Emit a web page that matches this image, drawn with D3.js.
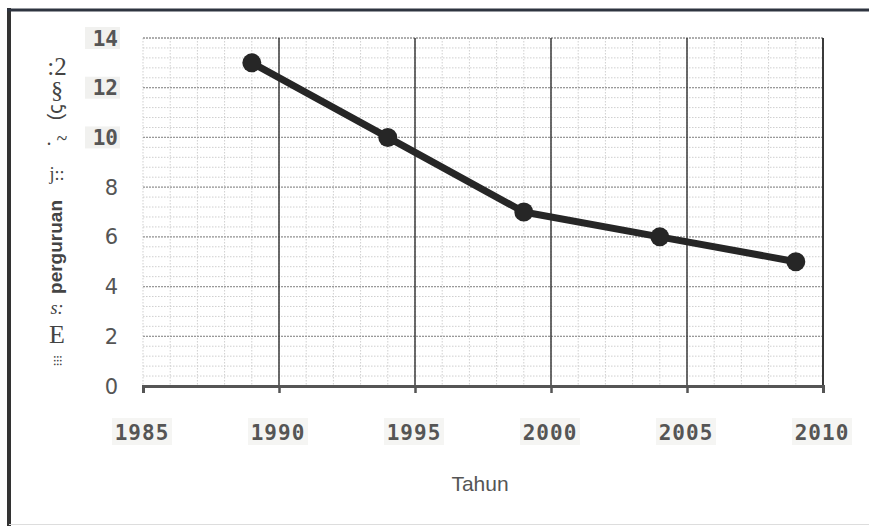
<!DOCTYPE html>
<html>
<head>
<meta charset="utf-8">
<script src="https://cdn.jsdelivr.net/npm/d3@7"></script>
<style>
  html, body { margin: 0; padding: 0; background: #fff; }
  svg { display: block; }
</style>
</head>
<body>
<svg id="viz"></svg>
<script>
  const years = [1989, 1994, 1999, 2004, 2009];
  const values = [13, 10, 7, 6, 5];
  const xTicks = [1985, 1990, 1995, 2000, 2005, 2010];
  const yTicks = [0, 2, 4, 6, 8, 10, 12, 14];
  const xTitle = 'Tahun';
  // scanned y-axis title, garbled pieces kept as they appear (top to bottom)
  const yTitleParts = [':2', '§', '(ꞔ', '. ~', 'j::', 'perguruan', 's:', 'E', '⁝⁝⁝'];

  const width = 869, height = 526;
  const margin = { top: 38, right: 46, bottom: 140, left: 143 };
  const innerW = width - margin.left - margin.right;
  const innerH = height - margin.top - margin.bottom;

  const svgRoot = d3.select('#viz').attr('width', width).attr('height', height);

  // outer frame of the scan
  svgRoot.append('line').attr('x1', 9).attr('x2', 9).attr('y1', 8).attr('y2', height)
    .attr('stroke', '#333').attr('stroke-width', 4);
  svgRoot.append('line').attr('x1', 7).attr('x2', width).attr('y1', 10).attr('y2', 10)
    .attr('stroke', '#2e3440').attr('stroke-width', 3);
  svgRoot.append('line').attr('x1', 9).attr('x2', width).attr('y1', 524.5).attr('y2', 524.5)
    .attr('stroke', '#ddd').attr('stroke-width', 1);

  const svg = svgRoot.append('g').attr('transform', `translate(${margin.left},${margin.top})`);

  const x = d3.scaleLinear().domain([1985, 2010]).range([0, innerW]);
  const y = d3.scaleLinear().domain([0, 14]).range([innerH, 0]);

  // minor grid
  const minorY = d3.range(0, 14.001, 0.4);
  svg.append('g').selectAll('line').data(minorY).join('line')
    .attr('x1', 0).attr('x2', innerW)
    .attr('y1', d => y(d)).attr('y2', d => y(d))
    .attr('stroke', '#cfcfcf').attr('stroke-width', 1).attr('stroke-dasharray', '1.5,1.5');
  const minorX = d3.range(1985, 2010.001, 1);
  svg.append('g').selectAll('line').data(minorX).join('line')
    .attr('x1', d => x(d)).attr('x2', d => x(d))
    .attr('y1', 0).attr('y2', innerH)
    .attr('stroke', '#cfcfcf').attr('stroke-width', 1).attr('stroke-dasharray', '1.5,1.5');

  // major horizontal grid
  svg.append('g').selectAll('line').data(yTicks.filter(d => d > 0)).join('line')
    .attr('x1', 0).attr('x2', innerW)
    .attr('y1', d => y(d)).attr('y2', d => y(d))
    .attr('stroke', '#999').attr('stroke-width', 1.3).attr('stroke-dasharray', '2,1');

  // major vertical grid
  svg.append('g').selectAll('line').data(xTicks.filter(d => d > 1985)).join('line')
    .attr('x1', d => x(d)).attr('x2', d => x(d))
    .attr('y1', 0).attr('y2', innerH)
    .attr('stroke', '#3a3a3a').attr('stroke-width', d => d === 2010 ? 2 : 1.5);

  // x axis
  const xAxis = svg.append('g').attr('transform', `translate(0,${innerH})`)
    .call(d3.axisBottom(x).tickValues(xTicks).tickSize(7).tickFormat(''));
  xAxis.select('.domain').attr('stroke', '#555').attr('stroke-width', 3);
  xAxis.selectAll('.tick line').attr('stroke', '#555').attr('stroke-width', 2.5);

  const xl = svg.append('g').selectAll('g').data(xTicks).join('g')
    .attr('transform', d => `translate(${x(d) - 1},${innerH + 54})`);
  xl.append('rect').attr('x', -30).attr('y', -22).attr('width', 60).attr('height', 27).attr('fill', '#f5f5f3');
  xl.append('text')
    .attr('text-anchor', 'middle')
    .attr('font-family', '"DejaVu Sans Mono", monospace')
    .attr('font-weight', 'bold')
    .attr('font-size', 21)
    .attr('letter-spacing', 1)
    .attr('fill', '#555')
    .text(d => d);

  // y labels
  const yl = svg.append('g').selectAll('g').data(yTicks).join('g')
    .attr('transform', d => `translate(-25,${y(d)})`);
  yl.filter(d => d >= 10).append('rect')
    .attr('x', -33).attr('y', -11).attr('width', 35).attr('height', 22).attr('fill', '#f1f1ef');
  yl.append('text')
    .attr('text-anchor', 'end')
    .attr('dy', '0.36em')
    .attr('font-family', d => d >= 10 ? '"DejaVu Sans Mono", monospace' : '"DejaVu Sans", sans-serif')
    .attr('font-weight', d => d >= 10 ? 'bold' : 'normal')
    .attr('font-size', 21)
    .attr('fill', '#555')
    .text(d => d);

  // data line
  const data = years.map((yr, i) => ({ year: yr, value: values[i] }));
  svg.append('path').datum(data)
    .attr('fill', 'none').attr('stroke', '#262626').attr('stroke-width', 7)
    .attr('stroke-linejoin', 'round')
    .attr('d', d3.line().x(d => x(d.year)).y(d => y(d.value)));
  svg.append('g').selectAll('circle').data(data).join('circle')
    .attr('cx', d => x(d.year)).attr('cy', d => y(d.value)).attr('r', 9.5)
    .attr('fill', '#262626');

  // x title
  svgRoot.append('text')
    .attr('x', 480).attr('y', 491)
    .attr('text-anchor', 'middle')
    .attr('font-family', '"Liberation Sans", Arial, sans-serif')
    .attr('font-size', 21)
    .attr('fill', '#555')
    .text(xTitle);

  // y title pieces (scan artefacts upright, "perguruan" and "(ꞔ" rotated)
  const yPieceY = [66, 90, 112, 138, 174, 247, 308, 334, 360];
  const yPieceSize = [25, 24, 20, 20, 18, 19, 18, 26, 13];
  const yt = svgRoot.append('g');
  yTitleParts.forEach((t, i) => {
    const rotated = t === 'perguruan' || t === '(ꞔ';
    const txt = yt.append('text')
      .attr('text-anchor', 'middle')
      .attr('dominant-baseline', 'central')
      .attr('fill', '#444')
      .attr('font-size', yPieceSize[i])
      .text(t);
    if (rotated) {
      txt.attr('transform', `translate(55,${yPieceY[i]}) rotate(-90)`)
        .attr('font-family', '"Liberation Sans", Arial, sans-serif')
        .attr('font-weight', t === 'perguruan' ? 'bold' : 'normal');
    } else {
      txt.attr('x', 57).attr('y', yPieceY[i])
        .attr('font-family', '"Liberation Serif", serif')
        .attr('font-style', t === 's:' ? 'italic' : 'normal');
    }
  });
</script>
</body>
</html>
